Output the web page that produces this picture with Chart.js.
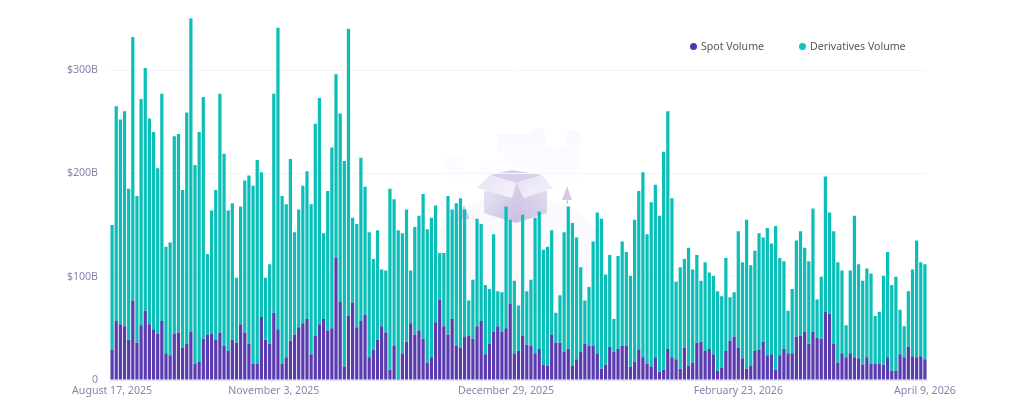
<!DOCTYPE html>
<html>
<head>
<meta charset="utf-8">
<title>Spot and Derivatives Volume</title>
<script src="https://cdn.jsdelivr.net/npm/chart.js@4"></script>
<style>
    html, body { margin: 0; padding: 0; background: #fff; }
    #wrap { position: relative; width: 1018px; height: 403px; overflow: hidden; }
    #art { position: absolute; left: 0; top: 0; }
    #mixed-chart { position: absolute; left: 0; top: 0; }
    .key { position: absolute; top: 39px; font: 10.6px "Noto Sans", sans-serif; line-height: 15px; color: #555; white-space: nowrap; }
    .key i { position: absolute; left: -11px; top: 4px; width: 7px; height: 7px; border-radius: 50%; }
</style>
</head>
<body>
<div id="wrap">
    <svg id="art" width="1018" height="403">
        <defs>
            <linearGradient id="fade" x1="0" y1="0" x2="0" y2="1">
                <stop offset="0" stop-color="#faf8ff"/>
                <stop offset="1" stop-color="#fefdff"/>
            </linearGradient>
            <linearGradient id="side" x1="0" y1="0" x2="1" y2="1">
                <stop offset="0" stop-color="#ebe7f6"/>
                <stop offset="1" stop-color="#c9bfe0"/>
            </linearGradient>
            <linearGradient id="side2" x1="0" y1="1" x2="1" y2="0">
                <stop offset="0" stop-color="#cbc1e1"/>
                <stop offset="1" stop-color="#e3ddf1"/>
            </linearGradient>
            <linearGradient id="flap" x1="0" y1="0" x2="1" y2="1">
                <stop offset="0" stop-color="#e6e0f3"/>
                <stop offset="1" stop-color="#f6f4fb"/>
            </linearGradient>
        </defs>
        <path fill="url(#fade)" d="M445 178V165q0-10 9-10t9 10l3 5h14v-8h25v-10h-8V134h33q2-6 8-6t8 8v12h20v-10q0-8 7-8t7 8v40z"/>
        <ellipse cx="518" cy="255" rx="86" ry="60" fill="#faf9fd"/>
        <polygon points="490,175 512,170 542,175 516,183" fill="#d8d0ea"/>
        <polygon points="484,191 516,183 516,223 484,213" fill="url(#side)"/>
        <polygon points="516,183 547,191 547,213 516,223" fill="url(#side2)"/>
        <polygon points="477,188 490,175 516,183 512,198" fill="url(#flap)"/>
        <polygon points="516,183 542,175 553,188 524,198" fill="url(#flap)"/>
        <polygon points="567,186 572,200 562,200" fill="#d3cae7"/>
        <rect x="566.5" y="198" width="1.5" height="6" fill="#d3cae7"/>
        <polygon points="464,205 470,219 458,219" fill="#d3cae7"/>
    </svg>
    <canvas id="mixed-chart" width="1018" height="403"></canvas>
    <div class="key" style="left:701px"><i style="background:#5233b0"></i>Spot Volume</div>
    <div class="key" style="left:810px"><i style="background:#0cc4c0"></i>Derivatives Volume</div>
</div>
<script>
var tickLabels = ["August 17, 2025", "November 3, 2025", "December 29, 2025", "February 23, 2026", "April 9, 2026"];
var yTicks = [0, 100, 200, 300];

// values in billions of USD
var spotVolume = [
    29, 57, 54, 52, 39, 77, 36, 53, 67, 54, 49, 45, 57, 26, 24, 45, 46, 31, 35, 47,
    16, 18, 40, 44, 45, 39, 46, 33, 28, 39, 36, 54, 46, 35, 16, 16, 61, 39, 35, 65,
    49, 16, 22, 38, 44, 51, 55, 59, 25, 43, 54, 59, 48, 50, 118, 76, 13, 62, 75, 51,
    57, 63, 22, 29, 39, 52, 46, 10, 33, 1, 26, 37, 55, 44, 48, 40, 17, 22, 56, 78,
    52, 44, 59, 33, 31, 42, 43, 40, 52, 57, 25, 35, 47, 52, 47, 50, 74, 26, 28, 43,
    34, 33, 26, 30, 15, 14, 44, 36, 36, 27, 30, 14, 20, 27, 35, 33, 33, 26, 11, 15,
    32, 27, 30, 33, 33, 13, 18, 29, 22, 16, 13, 22, 8, 10, 30, 22, 20, 11, 31, 14,
    17, 36, 37, 28, 30, 25, 9, 12, 28, 38, 42, 31, 21, 11, 14, 28, 29, 37, 24, 25,
    10, 24, 30, 26, 26, 42, 43, 47, 35, 47, 41, 40, 66, 64, 35, 17, 26, 22, 26, 22,
    21, 15, 22, 16, 16, 16, 15, 22, 9, 9, 25, 22, 32, 23, 22, 23, 20
];
var derivativesVolume = [
    121, 208, 198, 208, 146, 255, 142, 219, 235, 199, 191, 160, 220, 103, 109, 191, 192, 153, 224, 303,
    192, 222, 234, 78, 119, 145, 231, 186, 136, 132, 63, 114, 147, 163, 172, 197, 140, 60, 77, 212,
    292, 162, 148, 176, 99, 114, 133, 143, 145, 205, 219, 83, 135, 175, 178, 182, 199, 278, 82, 100,
    158, 124, 121, 88, 106, 55, 60, 175, 142, 144, 116, 128, 51, 104, 111, 140, 129, 135, 113, 45,
    71, 134, 106, 138, 145, 123, 34, 57, 104, 94, 67, 53, 94, 34, 38, 118, 81, 70, 44, 117,
    52, 64, 131, 133, 111, 115, 101, 29, 46, 116, 138, 138, 118, 82, 42, 57, 101, 136, 145, 87,
    89, 32, 90, 101, 91, 88, 137, 154, 179, 125, 159, 167, 151, 211, 230, 154, 75, 98, 86, 114,
    90, 85, 59, 86, 74, 76, 77, 69, 90, 42, 43, 113, 93, 144, 97, 97, 113, 101, 123, 107,
    139, 94, 85, 41, 62, 93, 101, 81, 80, 119, 37, 60, 131, 98, 109, 97, 80, 31, 80, 137,
    91, 81, 86, 87, 46, 50, 86, 102, 83, 91, 43, 30, 54, 84, 113, 91, 92
];

// two day steps up to November 3, daily after that
var categories = [];
var day = Date.UTC(2025, 7, 17);
for (var i = 0; i < spotVolume.length; i++) {
    categories.push(new Date(day).toLocaleDateString("en-US", { month: "long", day: "numeric", year: "numeric", timeZone: "UTC" }));
    day += (i < 39 ? 2 : 1) * 86400000;
}

var textColor = "#8785ad";
var font = { family: "'Noto Sans', sans-serif", size: 10.6 };

new Chart(document.getElementById("mixed-chart"), {
    type: "bar",
    data: {
        labels: categories,
        datasets: [{
            label: "Spot Volume",
            backgroundColor: "#5a3cb0",
            data: spotVolume
        }, {
            label: "Derivatives Volume",
            backgroundColor: "#0bbfb8",
            data: derivativesVolume
        }]
    },
    options: {
        responsive: false,
        animation: false,
        layout: { padding: { top: 18, right: 91, bottom: 0, left: 0 } },
        datasets: { bar: { categoryPercentage: 1, barPercentage: 0.78 } },
        plugins: { legend: { display: false }, tooltip: { enabled: false } },
        scales: {
            x: {
                stacked: true,
                afterFit: function (scale) { scale.height = 23; },
                border: { color: "#e3e0ef" },
                grid: {
                    drawOnChartArea: false,
                    tickLength: 4,
                    tickColor: function (ctx) {
                        return tickLabels.indexOf(categories[ctx.index]) >= 0 ? "#eeecf5" : "transparent";
                    }
                },
                ticks: {
                    autoSkip: false,
                    maxRotation: 0,
                    padding: 1,
                    color: textColor,
                    font: font,
                    callback: function (value, index) {
                        return tickLabels.indexOf(categories[index]) >= 0 ? categories[index] : "";
                    }
                }
            },
            y: {
                stacked: true,
                min: 0,
                max: 350,
                afterFit: function (scale) { scale.width = 110; },
                afterBuildTicks: function (scale) {
                    scale.ticks = yTicks.map(function (v) { return { value: v }; });
                },
                border: { display: false },
                grid: { color: "#f5f5f9", drawTicks: false },
                ticks: {
                    padding: 12,
                    color: textColor,
                    font: font,
                    callback: function (value) {
                        return value === 0 ? "0" : "$" + value + "B";
                    }
                }
            }
        }
    }
});
</script>
</body>
</html>
